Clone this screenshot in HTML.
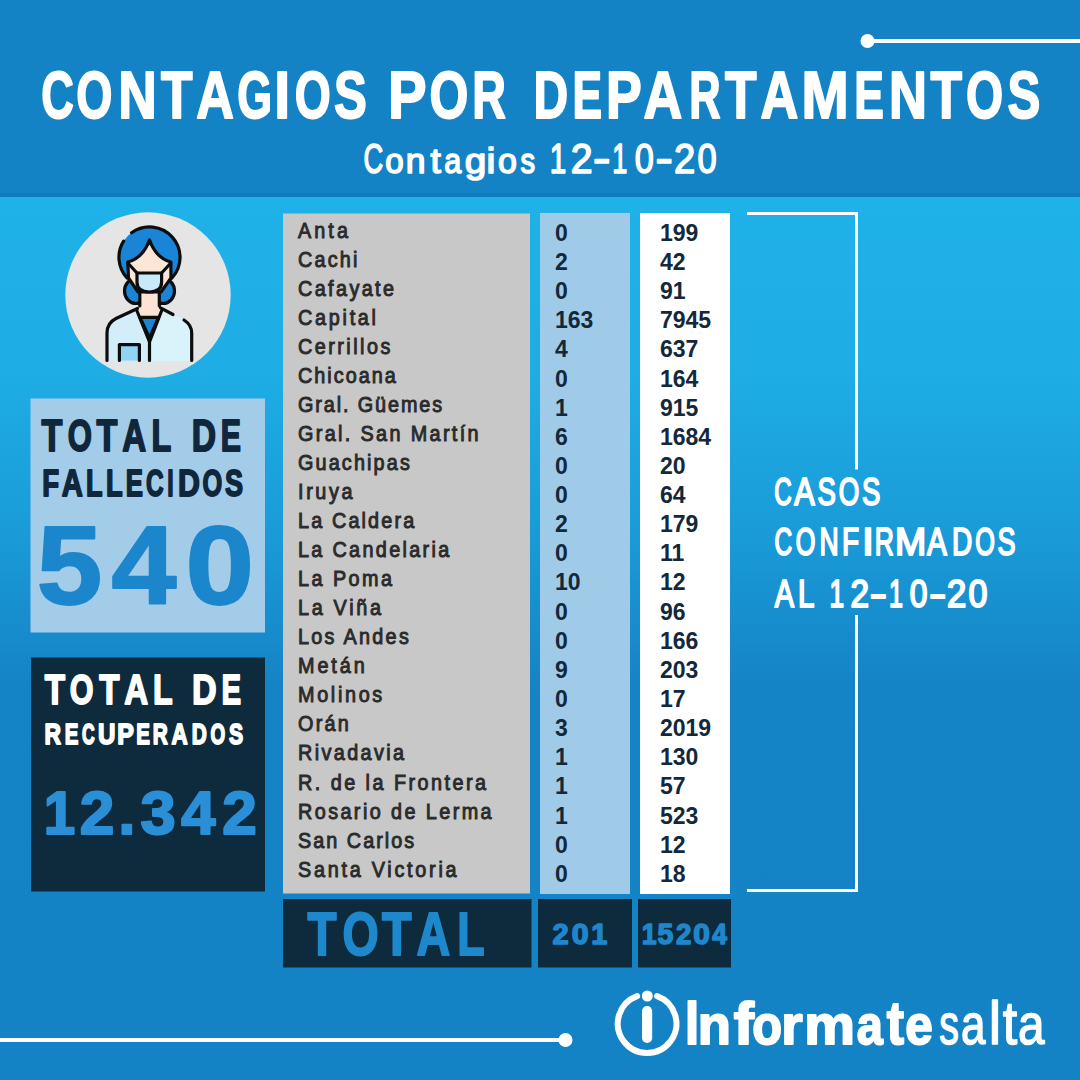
<!DOCTYPE html>
<html><head><meta charset="utf-8"><title>Contagios por departamentos</title>
<style>html,body{margin:0;padding:0;width:1080px;height:1080px;overflow:hidden;background:#1484c7;font-family:"Liberation Sans", sans-serif}</style>
</head><body>
<svg width="1080" height="1080" viewBox="0 0 1080 1080" style="display:block;font-family:'Liberation Sans', sans-serif"><defs><linearGradient id="bg" x1="0" y1="0" x2="0" y2="1"><stop offset="0" stop-color="#1eb2e8"/><stop offset="0.2" stop-color="#1eade5"/><stop offset="0.38" stop-color="#1a9bd8"/><stop offset="0.55" stop-color="#1584c7"/><stop offset="1" stop-color="#1383c5"/></linearGradient></defs>
<rect x="0" y="0" width="1080" height="1080" fill="#1383c5"/>
<rect x="0" y="197" width="1080" height="883" fill="url(#bg)"/>
<rect x="0" y="0" width="1080" height="197" fill="#1383c5"/>
<rect x="0" y="193" width="1080" height="4" fill="#117bbd"/>
<rect x="867" y="39" width="213" height="4" fill="#fff"/><circle cx="867.5" cy="41" r="7" fill="#fff"/>
<rect x="0" y="1038" width="566" height="4" fill="#fff"/><circle cx="565.5" cy="1040" r="7" fill="#fff"/>
<text x="41.15" y="118.0" font-size="67.0" fill="#fff" font-weight="bold" stroke="#fff" stroke-width="2.0" stroke-linejoin="round" textLength="32.58" lengthAdjust="spacingAndGlyphs">C</text>
<text x="76.29" y="118.0" font-size="67.0" fill="#fff" font-weight="bold" stroke="#fff" stroke-width="2.0" stroke-linejoin="round" textLength="36.16" lengthAdjust="spacingAndGlyphs">O</text>
<text x="118.14" y="118.0" font-size="67.0" fill="#fff" font-weight="bold" stroke="#fff" stroke-width="2.0" stroke-linejoin="round" textLength="38.45" lengthAdjust="spacingAndGlyphs">N</text>
<text x="161.02" y="118.0" font-size="67.0" fill="#fff" font-weight="bold" stroke="#fff" stroke-width="2.0" stroke-linejoin="round" textLength="31.53" lengthAdjust="spacingAndGlyphs">T</text>
<text x="196.20" y="118.0" font-size="67.0" fill="#fff" font-weight="bold" stroke="#fff" stroke-width="2.0" stroke-linejoin="round" textLength="37.67" lengthAdjust="spacingAndGlyphs">A</text>
<text x="237.26" y="118.0" font-size="67.0" fill="#fff" font-weight="bold" stroke="#fff" stroke-width="2.0" stroke-linejoin="round" textLength="34.81" lengthAdjust="spacingAndGlyphs">G</text>
<text x="274.19" y="118.0" font-size="67.0" fill="#fff" font-weight="bold" stroke="#fff" stroke-width="2.0" stroke-linejoin="round" textLength="15.82" lengthAdjust="spacingAndGlyphs">I</text>
<text x="294.70" y="118.0" font-size="67.0" fill="#fff" font-weight="bold" stroke="#fff" stroke-width="2.0" stroke-linejoin="round" textLength="36.05" lengthAdjust="spacingAndGlyphs">O</text>
<text x="333.98" y="118.0" font-size="67.0" fill="#fff" font-weight="bold" stroke="#fff" stroke-width="2.0" stroke-linejoin="round" textLength="32.84" lengthAdjust="spacingAndGlyphs">S</text>
<text x="388.03" y="118.0" font-size="67.0" fill="#fff" font-weight="bold" stroke="#fff" stroke-width="2.0" stroke-linejoin="round" textLength="38.54" lengthAdjust="spacingAndGlyphs">P</text>
<text x="429.55" y="118.0" font-size="67.0" fill="#fff" font-weight="bold" stroke="#fff" stroke-width="2.0" stroke-linejoin="round" textLength="38.85" lengthAdjust="spacingAndGlyphs">O</text>
<text x="472.28" y="118.0" font-size="67.0" fill="#fff" font-weight="bold" stroke="#fff" stroke-width="2.0" stroke-linejoin="round" textLength="33.68" lengthAdjust="spacingAndGlyphs">R</text>
<text x="533.39" y="118.0" font-size="67.0" fill="#fff" font-weight="bold" stroke="#fff" stroke-width="2.0" stroke-linejoin="round" textLength="34.62" lengthAdjust="spacingAndGlyphs">D</text>
<text x="572.43" y="118.0" font-size="67.0" fill="#fff" font-weight="bold" stroke="#fff" stroke-width="2.0" stroke-linejoin="round" textLength="29.60" lengthAdjust="spacingAndGlyphs">E</text>
<text x="606.12" y="118.0" font-size="67.0" fill="#fff" font-weight="bold" stroke="#fff" stroke-width="2.0" stroke-linejoin="round" textLength="35.71" lengthAdjust="spacingAndGlyphs">P</text>
<text x="643.56" y="118.0" font-size="67.0" fill="#fff" font-weight="bold" stroke="#fff" stroke-width="2.0" stroke-linejoin="round" textLength="38.75" lengthAdjust="spacingAndGlyphs">A</text>
<text x="689.19" y="118.0" font-size="67.0" fill="#fff" font-weight="bold" stroke="#fff" stroke-width="2.0" stroke-linejoin="round" textLength="31.40" lengthAdjust="spacingAndGlyphs">R</text>
<text x="725.02" y="118.0" font-size="67.0" fill="#fff" font-weight="bold" stroke="#fff" stroke-width="2.0" stroke-linejoin="round" textLength="31.53" lengthAdjust="spacingAndGlyphs">T</text>
<text x="760.40" y="118.0" font-size="67.0" fill="#fff" font-weight="bold" stroke="#fff" stroke-width="2.0" stroke-linejoin="round" textLength="37.78" lengthAdjust="spacingAndGlyphs">A</text>
<text x="801.51" y="118.0" font-size="67.0" fill="#fff" font-weight="bold" stroke="#fff" stroke-width="2.0" stroke-linejoin="round" textLength="47.18" lengthAdjust="spacingAndGlyphs">M</text>
<text x="854.13" y="118.0" font-size="67.0" fill="#fff" font-weight="bold" stroke="#fff" stroke-width="2.0" stroke-linejoin="round" textLength="29.60" lengthAdjust="spacingAndGlyphs">E</text>
<text x="888.98" y="118.0" font-size="67.0" fill="#fff" font-weight="bold" stroke="#fff" stroke-width="2.0" stroke-linejoin="round" textLength="37.96" lengthAdjust="spacingAndGlyphs">N</text>
<text x="930.42" y="118.0" font-size="67.0" fill="#fff" font-weight="bold" stroke="#fff" stroke-width="2.0" stroke-linejoin="round" textLength="31.53" lengthAdjust="spacingAndGlyphs">T</text>
<text x="966.04" y="118.0" font-size="67.0" fill="#fff" font-weight="bold" stroke="#fff" stroke-width="2.0" stroke-linejoin="round" textLength="37.17" lengthAdjust="spacingAndGlyphs">O</text>
<text x="1007.38" y="118.0" font-size="67.0" fill="#fff" font-weight="bold" stroke="#fff" stroke-width="2.0" stroke-linejoin="round" textLength="32.84" lengthAdjust="spacingAndGlyphs">S</text>
<text x="363.61" y="173.3" font-size="42.0" fill="#fff" font-weight="normal" stroke="#fff" stroke-width="1.6" stroke-linejoin="round" textLength="19.73" lengthAdjust="spacingAndGlyphs">C</text>
<text x="385.31" y="173.3" font-size="35.6" fill="#fff" font-weight="normal" stroke="#fff" stroke-width="1.6" stroke-linejoin="round" textLength="18.37" lengthAdjust="spacingAndGlyphs">o</text>
<text x="405.64" y="173.3" font-size="35.6" fill="#fff" font-weight="normal" stroke="#fff" stroke-width="1.6" stroke-linejoin="round" textLength="19.77" lengthAdjust="spacingAndGlyphs">n</text>
<text x="430.64" y="173.3" font-size="35.6" fill="#fff" font-weight="normal" stroke="#fff" stroke-width="1.6" stroke-linejoin="round" textLength="10.34" lengthAdjust="spacingAndGlyphs">t</text>
<text x="444.20" y="173.3" font-size="35.6" fill="#fff" font-weight="normal" stroke="#fff" stroke-width="1.6" stroke-linejoin="round" textLength="17.00" lengthAdjust="spacingAndGlyphs">a</text>
<text x="464.88" y="173.3" font-size="35.6" fill="#fff" font-weight="normal" stroke="#fff" stroke-width="1.6" stroke-linejoin="round" textLength="21.52" lengthAdjust="spacingAndGlyphs">g</text>
<text x="486.54" y="173.3" font-size="35.6" fill="#fff" font-weight="normal" stroke="#fff" stroke-width="1.6" stroke-linejoin="round" textLength="8.85" lengthAdjust="spacingAndGlyphs">i</text>
<text x="497.98" y="173.3" font-size="35.6" fill="#fff" font-weight="normal" stroke="#fff" stroke-width="1.6" stroke-linejoin="round" textLength="18.85" lengthAdjust="spacingAndGlyphs">o</text>
<text x="520.39" y="173.3" font-size="35.6" fill="#fff" font-weight="normal" stroke="#fff" stroke-width="1.6" stroke-linejoin="round" textLength="14.56" lengthAdjust="spacingAndGlyphs">s</text>
<text x="549.64" y="173.3" font-size="42.0" fill="#fff" font-weight="normal" stroke="#fff" stroke-width="1.6" stroke-linejoin="round" textLength="16.51" lengthAdjust="spacingAndGlyphs">1</text>
<text x="570.72" y="173.3" font-size="42.0" fill="#fff" font-weight="normal" stroke="#fff" stroke-width="1.6" stroke-linejoin="round" textLength="21.85" lengthAdjust="spacingAndGlyphs">2</text>
<text x="593.07" y="173.3" font-size="42.0" fill="#fff" font-weight="normal" stroke="#fff" stroke-width="1.6" stroke-linejoin="round" textLength="17.46" lengthAdjust="spacingAndGlyphs">-</text>
<text x="612.33" y="173.3" font-size="42.0" fill="#fff" font-weight="normal" stroke="#fff" stroke-width="1.6" stroke-linejoin="round" textLength="15.09" lengthAdjust="spacingAndGlyphs">1</text>
<text x="634.66" y="173.3" font-size="42.0" fill="#fff" font-weight="normal" stroke="#fff" stroke-width="1.6" stroke-linejoin="round" textLength="19.08" lengthAdjust="spacingAndGlyphs">0</text>
<text x="655.49" y="173.3" font-size="42.0" fill="#fff" font-weight="normal" stroke="#fff" stroke-width="1.6" stroke-linejoin="round" textLength="17.32" lengthAdjust="spacingAndGlyphs">-</text>
<text x="673.88" y="173.3" font-size="42.0" fill="#fff" font-weight="normal" stroke="#fff" stroke-width="1.6" stroke-linejoin="round" textLength="21.24" lengthAdjust="spacingAndGlyphs">2</text>
<text x="697.55" y="173.3" font-size="42.0" fill="#fff" font-weight="normal" stroke="#fff" stroke-width="1.6" stroke-linejoin="round" textLength="19.20" lengthAdjust="spacingAndGlyphs">0</text>
<rect x="283" y="213.5" width="247" height="680" fill="#c8c8c8"/>
<rect x="540" y="213" width="90" height="681" fill="#a0cbe8"/>
<rect x="640" y="213" width="90" height="681" fill="#ffffff"/>
<text transform="scale(0.88,1)" x="338.64" y="237.6" font-size="22.5" fill="#2b2b2b" stroke="#2b2b2b" stroke-width="1.0" font-weight="normal" textLength="56.70" lengthAdjust="spacing">Anta</text>
<text x="555" y="240.8" font-size="23" fill="#13283a" font-weight="bold" >0</text>
<text x="660" y="240.8" font-size="23" fill="#13283a" font-weight="bold" >199</text>
<text transform="scale(0.88,1)" x="338.64" y="266.65" font-size="22.5" fill="#2b2b2b" stroke="#2b2b2b" stroke-width="1.0" font-weight="normal" textLength="67.39" lengthAdjust="spacing">Cachi</text>
<text x="555" y="269.94" font-size="23" fill="#13283a" font-weight="bold" >2</text>
<text x="660" y="269.94" font-size="23" fill="#13283a" font-weight="bold" >42</text>
<text transform="scale(0.88,1)" x="338.64" y="295.7" font-size="22.5" fill="#2b2b2b" stroke="#2b2b2b" stroke-width="1.0" font-weight="normal" textLength="109.09" lengthAdjust="spacing">Cafayate</text>
<text x="555" y="299.08" font-size="23" fill="#13283a" font-weight="bold" >0</text>
<text x="660" y="299.08" font-size="23" fill="#13283a" font-weight="bold" >91</text>
<text transform="scale(0.88,1)" x="338.64" y="324.75" font-size="22.5" fill="#2b2b2b" stroke="#2b2b2b" stroke-width="1.0" font-weight="normal" textLength="88.64" lengthAdjust="spacing">Capital</text>
<text x="555" y="328.22" font-size="23" fill="#13283a" font-weight="bold" >163</text>
<text x="660" y="328.22" font-size="23" fill="#13283a" font-weight="bold" >7945</text>
<text transform="scale(0.88,1)" x="338.64" y="353.8" font-size="22.5" fill="#2b2b2b" stroke="#2b2b2b" stroke-width="1.0" font-weight="normal" textLength="104.89" lengthAdjust="spacing">Cerrillos</text>
<text x="555" y="357.36" font-size="23" fill="#13283a" font-weight="bold" >4</text>
<text x="660" y="357.36" font-size="23" fill="#13283a" font-weight="bold" >637</text>
<text transform="scale(0.88,1)" x="338.64" y="382.85" font-size="22.5" fill="#2b2b2b" stroke="#2b2b2b" stroke-width="1.0" font-weight="normal" textLength="111.14" lengthAdjust="spacing">Chicoana</text>
<text x="555" y="386.5" font-size="23" fill="#13283a" font-weight="bold" >0</text>
<text x="660" y="386.5" font-size="23" fill="#13283a" font-weight="bold" >164</text>
<text transform="scale(0.88,1)" x="338.64" y="411.9" font-size="22.5" fill="#2b2b2b" stroke="#2b2b2b" stroke-width="1.0" font-weight="normal" textLength="163.75" lengthAdjust="spacing">Gral. Güemes</text>
<text x="555" y="415.64" font-size="23" fill="#13283a" font-weight="bold" >1</text>
<text x="660" y="415.64" font-size="23" fill="#13283a" font-weight="bold" >915</text>
<text transform="scale(0.88,1)" x="338.64" y="440.95" font-size="22.5" fill="#2b2b2b" stroke="#2b2b2b" stroke-width="1.0" font-weight="normal" textLength="205.23" lengthAdjust="spacing">Gral. San Martín</text>
<text x="555" y="444.78" font-size="23" fill="#13283a" font-weight="bold" >6</text>
<text x="660" y="444.78" font-size="23" fill="#13283a" font-weight="bold" >1684</text>
<text transform="scale(0.88,1)" x="338.64" y="470.0" font-size="22.5" fill="#2b2b2b" stroke="#2b2b2b" stroke-width="1.0" font-weight="normal" textLength="127.05" lengthAdjust="spacing">Guachipas</text>
<text x="555" y="473.92" font-size="23" fill="#13283a" font-weight="bold" >0</text>
<text x="660" y="473.92" font-size="23" fill="#13283a" font-weight="bold" >20</text>
<text transform="scale(0.88,1)" x="338.64" y="499.05" font-size="22.5" fill="#2b2b2b" stroke="#2b2b2b" stroke-width="1.0" font-weight="normal" textLength="62.05" lengthAdjust="spacing">Iruya</text>
<text x="555" y="503.06" font-size="23" fill="#13283a" font-weight="bold" >0</text>
<text x="660" y="503.06" font-size="23" fill="#13283a" font-weight="bold" >64</text>
<text transform="scale(0.88,1)" x="338.64" y="528.1" font-size="22.5" fill="#2b2b2b" stroke="#2b2b2b" stroke-width="1.0" font-weight="normal" textLength="132.05" lengthAdjust="spacing">La Caldera</text>
<text x="555" y="532.2" font-size="23" fill="#13283a" font-weight="bold" >2</text>
<text x="660" y="532.2" font-size="23" fill="#13283a" font-weight="bold" >179</text>
<text transform="scale(0.88,1)" x="338.64" y="557.15" font-size="22.5" fill="#2b2b2b" stroke="#2b2b2b" stroke-width="1.0" font-weight="normal" textLength="171.82" lengthAdjust="spacing">La Candelaria</text>
<text x="555" y="561.34" font-size="23" fill="#13283a" font-weight="bold" >0</text>
<text x="660" y="561.34" font-size="23" fill="#13283a" font-weight="bold" >11</text>
<text transform="scale(0.88,1)" x="338.64" y="586.2" font-size="22.5" fill="#2b2b2b" stroke="#2b2b2b" stroke-width="1.0" font-weight="normal" textLength="106.82" lengthAdjust="spacing">La Poma</text>
<text x="555" y="590.48" font-size="23" fill="#13283a" font-weight="bold" >10</text>
<text x="660" y="590.48" font-size="23" fill="#13283a" font-weight="bold" >12</text>
<text transform="scale(0.88,1)" x="338.64" y="615.25" font-size="22.5" fill="#2b2b2b" stroke="#2b2b2b" stroke-width="1.0" font-weight="normal" textLength="94.32" lengthAdjust="spacing">La Viña</text>
<text x="555" y="619.62" font-size="23" fill="#13283a" font-weight="bold" >0</text>
<text x="660" y="619.62" font-size="23" fill="#13283a" font-weight="bold" >96</text>
<text transform="scale(0.88,1)" x="338.64" y="644.3" font-size="22.5" fill="#2b2b2b" stroke="#2b2b2b" stroke-width="1.0" font-weight="normal" textLength="125.91" lengthAdjust="spacing">Los Andes</text>
<text x="555" y="648.76" font-size="23" fill="#13283a" font-weight="bold" >0</text>
<text x="660" y="648.76" font-size="23" fill="#13283a" font-weight="bold" >166</text>
<text transform="scale(0.88,1)" x="338.64" y="673.35" font-size="22.5" fill="#2b2b2b" stroke="#2b2b2b" stroke-width="1.0" font-weight="normal" textLength="75.80" lengthAdjust="spacing">Metán</text>
<text x="555" y="677.9" font-size="23" fill="#13283a" font-weight="bold" >9</text>
<text x="660" y="677.9" font-size="23" fill="#13283a" font-weight="bold" >203</text>
<text transform="scale(0.88,1)" x="338.64" y="702.4" font-size="22.5" fill="#2b2b2b" stroke="#2b2b2b" stroke-width="1.0" font-weight="normal" textLength="95.68" lengthAdjust="spacing">Molinos</text>
<text x="555" y="707.04" font-size="23" fill="#13283a" font-weight="bold" >0</text>
<text x="660" y="707.04" font-size="23" fill="#13283a" font-weight="bold" >17</text>
<text transform="scale(0.88,1)" x="338.64" y="731.45" font-size="22.5" fill="#2b2b2b" stroke="#2b2b2b" stroke-width="1.0" font-weight="normal" textLength="57.84" lengthAdjust="spacing">Orán</text>
<text x="555" y="736.18" font-size="23" fill="#13283a" font-weight="bold" >3</text>
<text x="660" y="736.18" font-size="23" fill="#13283a" font-weight="bold" >2019</text>
<text transform="scale(0.88,1)" x="338.64" y="760.5" font-size="22.5" fill="#2b2b2b" stroke="#2b2b2b" stroke-width="1.0" font-weight="normal" textLength="120.57" lengthAdjust="spacing">Rivadavia</text>
<text x="555" y="765.32" font-size="23" fill="#13283a" font-weight="bold" >1</text>
<text x="660" y="765.32" font-size="23" fill="#13283a" font-weight="bold" >130</text>
<text transform="scale(0.88,1)" x="338.64" y="789.55" font-size="22.5" fill="#2b2b2b" stroke="#2b2b2b" stroke-width="1.0" font-weight="normal" textLength="213.64" lengthAdjust="spacing">R. de la Frontera</text>
<text x="555" y="794.46" font-size="23" fill="#13283a" font-weight="bold" >1</text>
<text x="660" y="794.46" font-size="23" fill="#13283a" font-weight="bold" >57</text>
<text transform="scale(0.88,1)" x="338.64" y="818.6" font-size="22.5" fill="#2b2b2b" stroke="#2b2b2b" stroke-width="1.0" font-weight="normal" textLength="220.00" lengthAdjust="spacing">Rosario de Lerma</text>
<text x="555" y="823.6" font-size="23" fill="#13283a" font-weight="bold" >1</text>
<text x="660" y="823.6" font-size="23" fill="#13283a" font-weight="bold" >523</text>
<text transform="scale(0.88,1)" x="338.64" y="847.65" font-size="22.5" fill="#2b2b2b" stroke="#2b2b2b" stroke-width="1.0" font-weight="normal" textLength="132.05" lengthAdjust="spacing">San Carlos</text>
<text x="555" y="852.74" font-size="23" fill="#13283a" font-weight="bold" >0</text>
<text x="660" y="852.74" font-size="23" fill="#13283a" font-weight="bold" >12</text>
<text transform="scale(0.88,1)" x="338.64" y="876.7" font-size="22.5" fill="#2b2b2b" stroke="#2b2b2b" stroke-width="1.0" font-weight="normal" textLength="180.23" lengthAdjust="spacing">Santa Victoria</text>
<text x="555" y="881.88" font-size="23" fill="#13283a" font-weight="bold" >0</text>
<text x="660" y="881.88" font-size="23" fill="#13283a" font-weight="bold" >18</text>
<rect x="283" y="899" width="248.5" height="68.5" fill="#0e2a3d"/>
<rect x="538" y="899" width="94" height="68.5" fill="#0e2a3d"/>
<rect x="638" y="899" width="93" height="68.5" fill="#0e2a3d"/>
<text x="307.47" y="954.5" font-size="60.3" fill="#1e88cc" font-weight="bold" stroke="#1e88cc" stroke-width="2.0" stroke-linejoin="round" textLength="29.04" lengthAdjust="spacingAndGlyphs">T</text>
<text x="342.59" y="954.5" font-size="60.3" fill="#1e88cc" font-weight="bold" stroke="#1e88cc" stroke-width="2.0" stroke-linejoin="round" textLength="36.16" lengthAdjust="spacingAndGlyphs">O</text>
<text x="381.96" y="954.5" font-size="60.3" fill="#1e88cc" font-weight="bold" stroke="#1e88cc" stroke-width="2.0" stroke-linejoin="round" textLength="29.56" lengthAdjust="spacingAndGlyphs">T</text>
<text x="416.54" y="954.5" font-size="60.3" fill="#1e88cc" font-weight="bold" stroke="#1e88cc" stroke-width="2.0" stroke-linejoin="round" textLength="33.69" lengthAdjust="spacingAndGlyphs">A</text>
<text x="457.30" y="954.5" font-size="60.3" fill="#1e88cc" font-weight="bold" stroke="#1e88cc" stroke-width="2.0" stroke-linejoin="round" textLength="27.38" lengthAdjust="spacingAndGlyphs">L</text>
<text x="552.54" y="944.0" font-size="28.8" fill="#1f86cc" font-weight="bold" stroke="#1f86cc" stroke-width="1.5" stroke-linejoin="round" textLength="16.17" lengthAdjust="spacingAndGlyphs">2</text>
<text x="571.75" y="944.0" font-size="28.8" fill="#1f86cc" font-weight="bold" stroke="#1f86cc" stroke-width="1.5" stroke-linejoin="round" textLength="16.84" lengthAdjust="spacingAndGlyphs">0</text>
<text x="591.24" y="944.0" font-size="28.8" fill="#1f86cc" font-weight="bold" stroke="#1f86cc" stroke-width="1.5" stroke-linejoin="round" textLength="16.02" lengthAdjust="spacingAndGlyphs">1</text>
<text x="641.87" y="944.0" font-size="28.8" fill="#1f86cc" font-weight="bold" stroke="#1f86cc" stroke-width="1.5" stroke-linejoin="round" textLength="14.82" lengthAdjust="spacingAndGlyphs">1</text>
<text x="657.48" y="944.0" font-size="28.8" fill="#1f86cc" font-weight="bold" stroke="#1f86cc" stroke-width="1.5" stroke-linejoin="round" textLength="15.76" lengthAdjust="spacingAndGlyphs">5</text>
<text x="676.09" y="944.0" font-size="28.8" fill="#1f86cc" font-weight="bold" stroke="#1f86cc" stroke-width="1.5" stroke-linejoin="round" textLength="15.36" lengthAdjust="spacingAndGlyphs">2</text>
<text x="693.27" y="944.0" font-size="28.8" fill="#1f86cc" font-weight="bold" stroke="#1f86cc" stroke-width="1.5" stroke-linejoin="round" textLength="16.61" lengthAdjust="spacingAndGlyphs">0</text>
<text x="712.35" y="944.0" font-size="28.8" fill="#1f86cc" font-weight="bold" stroke="#1f86cc" stroke-width="1.5" stroke-linejoin="round" textLength="14.64" lengthAdjust="spacingAndGlyphs">4</text>
<path d="M747 213.5 H856.5 V469.5 M856.5 615 V890.5 H747" fill="none" stroke="#fff" stroke-width="3"/>
<text x="774.17" y="504.5" font-size="38.5" fill="#fff" font-weight="normal" stroke="#fff" stroke-width="2.0" stroke-linejoin="round" textLength="17.45" lengthAdjust="spacingAndGlyphs">C</text>
<text x="794.24" y="504.5" font-size="38.5" fill="#fff" font-weight="normal" stroke="#fff" stroke-width="2.0" stroke-linejoin="round" textLength="20.42" lengthAdjust="spacingAndGlyphs">A</text>
<text x="817.55" y="504.5" font-size="38.5" fill="#fff" font-weight="normal" stroke="#fff" stroke-width="2.0" stroke-linejoin="round" textLength="18.31" lengthAdjust="spacingAndGlyphs">S</text>
<text x="838.65" y="504.5" font-size="38.5" fill="#fff" font-weight="normal" stroke="#fff" stroke-width="2.0" stroke-linejoin="round" textLength="20.51" lengthAdjust="spacingAndGlyphs">O</text>
<text x="861.95" y="504.5" font-size="38.5" fill="#fff" font-weight="normal" stroke="#fff" stroke-width="2.0" stroke-linejoin="round" textLength="18.31" lengthAdjust="spacingAndGlyphs">S</text>
<text x="774.56" y="555.3" font-size="38.5" fill="#fff" font-weight="normal" stroke="#fff" stroke-width="2.0" stroke-linejoin="round" textLength="17.68" lengthAdjust="spacingAndGlyphs">C</text>
<text x="795.71" y="555.3" font-size="38.5" fill="#fff" font-weight="normal" stroke="#fff" stroke-width="2.0" stroke-linejoin="round" textLength="19.60" lengthAdjust="spacingAndGlyphs">O</text>
<text x="819.43" y="555.3" font-size="38.5" fill="#fff" font-weight="normal" stroke="#fff" stroke-width="2.0" stroke-linejoin="round" textLength="19.13" lengthAdjust="spacingAndGlyphs">N</text>
<text x="842.10" y="555.3" font-size="38.5" fill="#fff" font-weight="normal" stroke="#fff" stroke-width="2.0" stroke-linejoin="round" textLength="17.12" lengthAdjust="spacingAndGlyphs">F</text>
<text x="862.14" y="555.3" font-size="38.5" fill="#fff" font-weight="normal" stroke="#fff" stroke-width="2.0" stroke-linejoin="round" textLength="11.92" lengthAdjust="spacingAndGlyphs">I</text>
<text x="874.73" y="555.3" font-size="38.5" fill="#fff" font-weight="normal" stroke="#fff" stroke-width="2.0" stroke-linejoin="round" textLength="19.10" lengthAdjust="spacingAndGlyphs">R</text>
<text x="895.12" y="555.3" font-size="38.5" fill="#fff" font-weight="normal" stroke="#fff" stroke-width="2.0" stroke-linejoin="round" textLength="31.26" lengthAdjust="spacingAndGlyphs">M</text>
<text x="927.04" y="555.3" font-size="38.5" fill="#fff" font-weight="normal" stroke="#fff" stroke-width="2.0" stroke-linejoin="round" textLength="19.82" lengthAdjust="spacingAndGlyphs">A</text>
<text x="951.90" y="555.3" font-size="38.5" fill="#fff" font-weight="normal" stroke="#fff" stroke-width="2.0" stroke-linejoin="round" textLength="20.24" lengthAdjust="spacingAndGlyphs">D</text>
<text x="975.31" y="555.3" font-size="38.5" fill="#fff" font-weight="normal" stroke="#fff" stroke-width="2.0" stroke-linejoin="round" textLength="19.60" lengthAdjust="spacingAndGlyphs">O</text>
<text x="997.48" y="555.3" font-size="38.5" fill="#fff" font-weight="normal" stroke="#fff" stroke-width="2.0" stroke-linejoin="round" textLength="17.96" lengthAdjust="spacingAndGlyphs">S</text>
<text x="774.84" y="606.5" font-size="38.5" fill="#fff" font-weight="normal" stroke="#fff" stroke-width="2.0" stroke-linejoin="round" textLength="19.21" lengthAdjust="spacingAndGlyphs">A</text>
<text x="797.98" y="606.5" font-size="38.5" fill="#fff" font-weight="normal" stroke="#fff" stroke-width="2.0" stroke-linejoin="round" textLength="16.40" lengthAdjust="spacingAndGlyphs">L</text>
<text x="829.60" y="606.5" font-size="38.5" fill="#fff" font-weight="normal" stroke="#fff" stroke-width="2.0" stroke-linejoin="round" textLength="14.58" lengthAdjust="spacingAndGlyphs">1</text>
<text x="850.42" y="606.5" font-size="38.5" fill="#fff" font-weight="normal" stroke="#fff" stroke-width="2.0" stroke-linejoin="round" textLength="18.56" lengthAdjust="spacingAndGlyphs">2</text>
<text x="869.83" y="606.5" font-size="38.5" fill="#fff" font-weight="normal" stroke="#fff" stroke-width="2.0" stroke-linejoin="round" textLength="17.05" lengthAdjust="spacingAndGlyphs">-</text>
<text x="889.09" y="606.5" font-size="38.5" fill="#fff" font-weight="normal" stroke="#fff" stroke-width="2.0" stroke-linejoin="round" textLength="13.93" lengthAdjust="spacingAndGlyphs">1</text>
<text x="909.76" y="606.5" font-size="38.5" fill="#fff" font-weight="normal" stroke="#fff" stroke-width="2.0" stroke-linejoin="round" textLength="17.68" lengthAdjust="spacingAndGlyphs">0</text>
<text x="929.34" y="606.5" font-size="38.5" fill="#fff" font-weight="normal" stroke="#fff" stroke-width="2.0" stroke-linejoin="round" textLength="16.91" lengthAdjust="spacingAndGlyphs">-</text>
<text x="947.06" y="606.5" font-size="38.5" fill="#fff" font-weight="normal" stroke="#fff" stroke-width="2.0" stroke-linejoin="round" textLength="19.29" lengthAdjust="spacingAndGlyphs">2</text>
<text x="968.57" y="606.5" font-size="38.5" fill="#fff" font-weight="normal" stroke="#fff" stroke-width="2.0" stroke-linejoin="round" textLength="18.96" lengthAdjust="spacingAndGlyphs">0</text>
<rect x="30.5" y="398.5" width="234.5" height="234" fill="#a2cce8"/>
<text x="41.62" y="450.6" font-size="43.9" fill="#10263a" font-weight="bold" stroke="#10263a" stroke-width="1.8" stroke-linejoin="round" textLength="20.85" lengthAdjust="spacingAndGlyphs">T</text>
<text x="67.72" y="450.6" font-size="43.9" fill="#10263a" font-weight="bold" stroke="#10263a" stroke-width="1.8" stroke-linejoin="round" textLength="24.18" lengthAdjust="spacingAndGlyphs">O</text>
<text x="96.62" y="450.6" font-size="43.9" fill="#10263a" font-weight="bold" stroke="#10263a" stroke-width="1.8" stroke-linejoin="round" textLength="20.85" lengthAdjust="spacingAndGlyphs">T</text>
<text x="122.18" y="450.6" font-size="43.9" fill="#10263a" font-weight="bold" stroke="#10263a" stroke-width="1.8" stroke-linejoin="round" textLength="23.90" lengthAdjust="spacingAndGlyphs">A</text>
<text x="151.44" y="450.6" font-size="43.9" fill="#10263a" font-weight="bold" stroke="#10263a" stroke-width="1.8" stroke-linejoin="round" textLength="19.76" lengthAdjust="spacingAndGlyphs">L</text>
<text x="191.65" y="450.6" font-size="43.9" fill="#10263a" font-weight="bold" stroke="#10263a" stroke-width="1.8" stroke-linejoin="round" textLength="24.26" lengthAdjust="spacingAndGlyphs">D</text>
<text x="220.87" y="450.6" font-size="43.9" fill="#10263a" font-weight="bold" stroke="#10263a" stroke-width="1.8" stroke-linejoin="round" textLength="20.21" lengthAdjust="spacingAndGlyphs">E</text>
<text x="42.15" y="496.0" font-size="37.6" fill="#10263a" font-weight="bold" stroke="#10263a" stroke-width="1.8" stroke-linejoin="round" textLength="16.86" lengthAdjust="spacingAndGlyphs">F</text>
<text x="61.67" y="496.0" font-size="37.6" fill="#10263a" font-weight="bold" stroke="#10263a" stroke-width="1.8" stroke-linejoin="round" textLength="21.10" lengthAdjust="spacingAndGlyphs">A</text>
<text x="86.09" y="496.0" font-size="37.6" fill="#10263a" font-weight="bold" stroke="#10263a" stroke-width="1.8" stroke-linejoin="round" textLength="16.55" lengthAdjust="spacingAndGlyphs">L</text>
<text x="105.88" y="496.0" font-size="37.6" fill="#10263a" font-weight="bold" stroke="#10263a" stroke-width="1.8" stroke-linejoin="round" textLength="16.66" lengthAdjust="spacingAndGlyphs">L</text>
<text x="125.87" y="496.0" font-size="37.6" fill="#10263a" font-weight="bold" stroke="#10263a" stroke-width="1.8" stroke-linejoin="round" textLength="17.24" lengthAdjust="spacingAndGlyphs">E</text>
<text x="146.00" y="496.0" font-size="37.6" fill="#10263a" font-weight="bold" stroke="#10263a" stroke-width="1.8" stroke-linejoin="round" textLength="17.67" lengthAdjust="spacingAndGlyphs">C</text>
<text x="167.37" y="496.0" font-size="37.6" fill="#10263a" font-weight="bold" stroke="#10263a" stroke-width="1.8" stroke-linejoin="round" textLength="6.37" lengthAdjust="spacingAndGlyphs">I</text>
<text x="178.07" y="496.0" font-size="37.6" fill="#10263a" font-weight="bold" stroke="#10263a" stroke-width="1.8" stroke-linejoin="round" textLength="21.90" lengthAdjust="spacingAndGlyphs">D</text>
<text x="202.46" y="496.0" font-size="37.6" fill="#10263a" font-weight="bold" stroke="#10263a" stroke-width="1.8" stroke-linejoin="round" textLength="19.70" lengthAdjust="spacingAndGlyphs">O</text>
<text x="225.12" y="496.0" font-size="37.6" fill="#10263a" font-weight="bold" stroke="#10263a" stroke-width="1.8" stroke-linejoin="round" textLength="18.04" lengthAdjust="spacingAndGlyphs">S</text>
<text x="36.78" y="604.0" font-size="111.8" fill="#1c86cc" font-weight="bold" stroke="#1c86cc" stroke-width="2.0" stroke-linejoin="round" textLength="65.50" lengthAdjust="spacingAndGlyphs">5</text>
<text x="111.43" y="604.0" font-size="111.8" fill="#1c86cc" font-weight="bold" stroke="#1c86cc" stroke-width="2.0" stroke-linejoin="round" textLength="64.89" lengthAdjust="spacingAndGlyphs">4</text>
<text x="185.53" y="604.0" font-size="111.8" fill="#1c86cc" font-weight="bold" stroke="#1c86cc" stroke-width="2.0" stroke-linejoin="round" textLength="68.53" lengthAdjust="spacingAndGlyphs">0</text>
<rect x="31" y="657.5" width="234" height="234" fill="#0e2a3d"/>
<text x="44.73" y="703.8" font-size="43.2" fill="#ffffff" font-weight="bold" stroke="#ffffff" stroke-width="1.8" stroke-linejoin="round" textLength="20.33" lengthAdjust="spacingAndGlyphs">T</text>
<text x="69.75" y="703.8" font-size="43.2" fill="#ffffff" font-weight="bold" stroke="#ffffff" stroke-width="1.8" stroke-linejoin="round" textLength="23.73" lengthAdjust="spacingAndGlyphs">O</text>
<text x="99.23" y="703.8" font-size="43.2" fill="#ffffff" font-weight="bold" stroke="#ffffff" stroke-width="1.8" stroke-linejoin="round" textLength="20.23" lengthAdjust="spacingAndGlyphs">T</text>
<text x="124.18" y="703.8" font-size="43.2" fill="#ffffff" font-weight="bold" stroke="#ffffff" stroke-width="1.8" stroke-linejoin="round" textLength="23.90" lengthAdjust="spacingAndGlyphs">A</text>
<text x="153.05" y="703.8" font-size="43.2" fill="#ffffff" font-weight="bold" stroke="#ffffff" stroke-width="1.8" stroke-linejoin="round" textLength="19.64" lengthAdjust="spacingAndGlyphs">L</text>
<text x="191.92" y="703.8" font-size="43.2" fill="#ffffff" font-weight="bold" stroke="#ffffff" stroke-width="1.8" stroke-linejoin="round" textLength="24.61" lengthAdjust="spacingAndGlyphs">D</text>
<text x="221.43" y="703.8" font-size="43.2" fill="#ffffff" font-weight="bold" stroke="#ffffff" stroke-width="1.8" stroke-linejoin="round" textLength="19.62" lengthAdjust="spacingAndGlyphs">E</text>
<text x="44.57" y="743.7" font-size="29.5" fill="#ffffff" font-weight="bold" stroke="#ffffff" stroke-width="1.8" stroke-linejoin="round" textLength="16.50" lengthAdjust="spacingAndGlyphs">R</text>
<text x="64.73" y="743.7" font-size="29.5" fill="#ffffff" font-weight="bold" stroke="#ffffff" stroke-width="1.8" stroke-linejoin="round" textLength="13.67" lengthAdjust="spacingAndGlyphs">E</text>
<text x="82.08" y="743.7" font-size="29.5" fill="#ffffff" font-weight="bold" stroke="#ffffff" stroke-width="1.8" stroke-linejoin="round" textLength="12.70" lengthAdjust="spacingAndGlyphs">C</text>
<text x="97.95" y="743.7" font-size="29.5" fill="#ffffff" font-weight="bold" stroke="#ffffff" stroke-width="1.8" stroke-linejoin="round" textLength="17.42" lengthAdjust="spacingAndGlyphs">U</text>
<text x="117.13" y="743.7" font-size="29.5" fill="#ffffff" font-weight="bold" stroke="#ffffff" stroke-width="1.8" stroke-linejoin="round" textLength="16.62" lengthAdjust="spacingAndGlyphs">P</text>
<text x="136.23" y="743.7" font-size="29.5" fill="#ffffff" font-weight="bold" stroke="#ffffff" stroke-width="1.8" stroke-linejoin="round" textLength="13.67" lengthAdjust="spacingAndGlyphs">E</text>
<text x="152.71" y="743.7" font-size="29.5" fill="#ffffff" font-weight="bold" stroke="#ffffff" stroke-width="1.8" stroke-linejoin="round" textLength="15.02" lengthAdjust="spacingAndGlyphs">R</text>
<text x="171.54" y="743.7" font-size="29.5" fill="#ffffff" font-weight="bold" stroke="#ffffff" stroke-width="1.8" stroke-linejoin="round" textLength="16.15" lengthAdjust="spacingAndGlyphs">A</text>
<text x="191.70" y="743.7" font-size="29.5" fill="#ffffff" font-weight="bold" stroke="#ffffff" stroke-width="1.8" stroke-linejoin="round" textLength="15.07" lengthAdjust="spacingAndGlyphs">D</text>
<text x="210.53" y="743.7" font-size="29.5" fill="#ffffff" font-weight="bold" stroke="#ffffff" stroke-width="1.8" stroke-linejoin="round" textLength="14.67" lengthAdjust="spacingAndGlyphs">O</text>
<text x="228.89" y="743.7" font-size="29.5" fill="#ffffff" font-weight="bold" stroke="#ffffff" stroke-width="1.8" stroke-linejoin="round" textLength="14.14" lengthAdjust="spacingAndGlyphs">S</text>
<text x="43.64" y="833.9" font-size="61.2" fill="#2a8fd6" font-weight="bold" stroke="#2a8fd6" stroke-width="2.2" stroke-linejoin="round" textLength="31.43" lengthAdjust="spacingAndGlyphs">1</text>
<text x="79.65" y="833.9" font-size="61.2" fill="#2a8fd6" font-weight="bold" stroke="#2a8fd6" stroke-width="2.2" stroke-linejoin="round" textLength="34.54" lengthAdjust="spacingAndGlyphs">2</text>
<text x="118.51" y="833.9" font-size="61.2" fill="#2a8fd6" font-weight="bold" stroke="#2a8fd6" stroke-width="2.2" stroke-linejoin="round" textLength="16.74" lengthAdjust="spacingAndGlyphs">.</text>
<text x="140.45" y="833.9" font-size="61.2" fill="#2a8fd6" font-weight="bold" stroke="#2a8fd6" stroke-width="2.2" stroke-linejoin="round" textLength="35.13" lengthAdjust="spacingAndGlyphs">3</text>
<text x="181.27" y="833.9" font-size="61.2" fill="#2a8fd6" font-weight="bold" stroke="#2a8fd6" stroke-width="2.2" stroke-linejoin="round" textLength="34.16" lengthAdjust="spacingAndGlyphs">4</text>
<text x="222.25" y="833.9" font-size="61.2" fill="#2a8fd6" font-weight="bold" stroke="#2a8fd6" stroke-width="2.2" stroke-linejoin="round" textLength="34.54" lengthAdjust="spacingAndGlyphs">2</text>
<circle cx="148" cy="295" r="82.7" fill="#e5e5e5"/>
<g stroke="#0d0d0d" stroke-width="3.2" stroke-linejoin="round" stroke-linecap="round">
<ellipse cx="136" cy="291" rx="11.5" ry="12.5" fill="#1a84d6"/>
<ellipse cx="163" cy="291" rx="11.5" ry="12.5" fill="#1a84d6"/>
<path d="M107 361 V333 Q107 323 116 318.5 L137.5 308.5 H160.5 L184 320 Q191.7 325 191.7 333 V361 Z" fill="#d3eef9" stroke="none"/>
<path d="M150 342 V308 H160.5 L184 320 Q191.7 325 191.7 333 V361 H150 Z" fill="#d9f3fb" stroke="none"/>
<path d="M127 278 A30.5 30.5 0 1 1 172 278 Z" fill="#1a84d6" stroke="none"/>
<path d="M123.6 241.2 A30.5 30.5 0 0 0 127 278 M172 278 A30.5 30.5 0 0 0 131.6 232.7" fill="none"/>
<rect x="139.8" y="288" width="19.5" height="30" fill="#fde3d6" stroke="none"/>
<path d="M139.8 290 V306 M159.3 290 V306" fill="none"/>
<path d="M127.8 262 Q143 258 149.5 240 Q156 258 170.8 262 L171 278 L161 292 H138 L128.5 278 Z" fill="#fde5d8"/>
<path d="M137 273 H161.6 V282 Q161.6 292 149.3 292 Q137 292 137 282 Z" fill="#c6eaf9"/>
<path d="M127.8 263 L137 273 M170.8 263 L161.6 273" fill="none"/>
<path d="M139.8 317.3 H158.6 L149.5 338 Z" fill="#1a84d6"/>
<path d="M137.5 308.5 L116 318.5 Q107 323 107 333 V360.5 M160.5 307.8 L173 314.5 M184 320 Q191.7 325 191.7 333 V360.5" fill="none"/>
<path d="M137 311 L149.5 342 L161.5 311 M149.5 342 V360.5" fill="none"/>
<rect x="119.4" y="344.6" width="20" height="16" fill="#8fd4f4" stroke="none"/>
<path d="M119.4 360.5 V344.6 H139.4 V360.5" fill="none"/>
</g>
<g fill="none" stroke="#fff" stroke-width="6" stroke-linecap="round"><path d="M637.1 996.1 A29.3 29.3 0 1 0 657.1 996.1"/></g>
<circle cx="647.3" cy="996" r="5.5" fill="#fff"/><rect x="642" y="1006" width="10.2" height="37" rx="5.1" fill="#fff"/>
<text x="685.01" y="1043.6" font-size="63.7" fill="#fff" font-weight="bold" stroke="#fff" stroke-width="2.0" stroke-linejoin="round" textLength="14.08" lengthAdjust="spacingAndGlyphs">I</text>
<text x="697.82" y="1043.6" font-size="56.4" fill="#fff" font-weight="bold" stroke="#fff" stroke-width="2.0" stroke-linejoin="round" textLength="33.14" lengthAdjust="spacingAndGlyphs">n</text>
<text x="733.66" y="1043.6" font-size="59.0" fill="#fff" font-weight="bold" stroke="#fff" stroke-width="2.0" stroke-linejoin="round" textLength="20.22" lengthAdjust="spacingAndGlyphs">f</text>
<text x="752.19" y="1043.6" font-size="56.4" fill="#fff" font-weight="bold" stroke="#fff" stroke-width="2.0" stroke-linejoin="round" textLength="29.81" lengthAdjust="spacingAndGlyphs">o</text>
<text x="781.26" y="1043.6" font-size="56.4" fill="#fff" font-weight="bold" stroke="#fff" stroke-width="2.0" stroke-linejoin="round" textLength="21.47" lengthAdjust="spacingAndGlyphs">r</text>
<text x="804.24" y="1043.6" font-size="56.4" fill="#fff" font-weight="bold" stroke="#fff" stroke-width="2.0" stroke-linejoin="round" textLength="50.69" lengthAdjust="spacingAndGlyphs">m</text>
<text x="856.63" y="1043.6" font-size="56.4" fill="#fff" font-weight="bold" stroke="#fff" stroke-width="2.0" stroke-linejoin="round" textLength="26.08" lengthAdjust="spacingAndGlyphs">a</text>
<text x="886.77" y="1043.6" font-size="60.7" fill="#fff" font-weight="bold" stroke="#fff" stroke-width="2.0" stroke-linejoin="round" textLength="17.27" lengthAdjust="spacingAndGlyphs">t</text>
<text x="905.37" y="1043.6" font-size="56.4" fill="#fff" font-weight="bold" stroke="#fff" stroke-width="2.0" stroke-linejoin="round" textLength="27.52" lengthAdjust="spacingAndGlyphs">e</text>
<text x="939.26" y="1043.8" font-size="57.4" fill="#fff" font-weight="normal" stroke="#fff" stroke-width="1.5" stroke-linejoin="round" textLength="19.61" lengthAdjust="spacingAndGlyphs">s</text>
<text x="960.88" y="1043.8" font-size="57.4" fill="#fff" font-weight="normal" stroke="#fff" stroke-width="1.5" stroke-linejoin="round" textLength="24.47" lengthAdjust="spacingAndGlyphs">a</text>
<text x="988.69" y="1043.8" font-size="61.1" fill="#fff" font-weight="normal" stroke="#fff" stroke-width="1.5" stroke-linejoin="round" textLength="12.39" lengthAdjust="spacingAndGlyphs">l</text>
<text x="1002.76" y="1043.8" font-size="62.0" fill="#fff" font-weight="normal" stroke="#fff" stroke-width="1.5" stroke-linejoin="round" textLength="14.47" lengthAdjust="spacingAndGlyphs">t</text>
<text x="1018.12" y="1043.8" font-size="57.4" fill="#fff" font-weight="normal" stroke="#fff" stroke-width="1.5" stroke-linejoin="round" textLength="26.53" lengthAdjust="spacingAndGlyphs">a</text></svg>
</body></html>
